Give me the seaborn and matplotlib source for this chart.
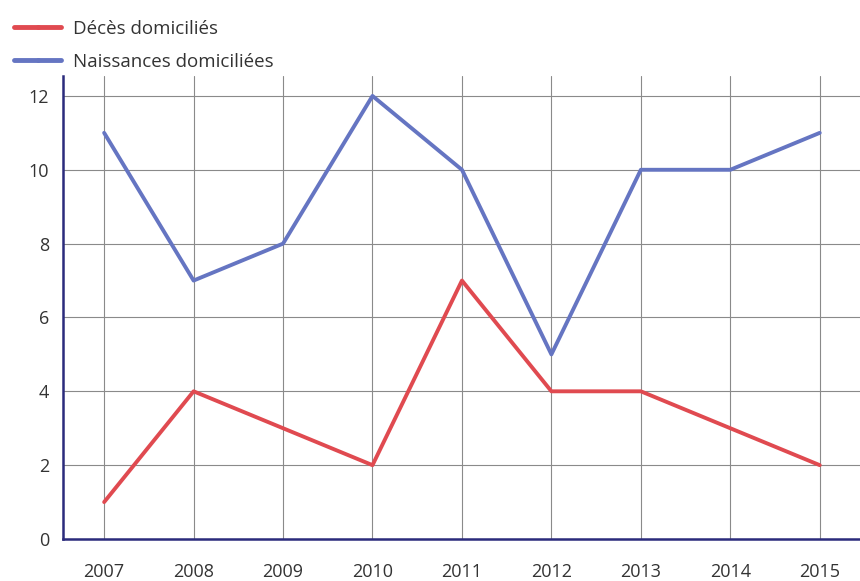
import matplotlib
matplotlib.use("Agg")
import matplotlib.pyplot as plt
import seaborn as sns
import pandas as pd

years = [2007, 2008, 2009, 2010, 2011, 2012, 2013, 2014, 2015]
deces = [1, 4, 3, 2, 7, 4, 4, 3, 2]
naissances = [11, 7, 8, 12, 10, 5, 10, 10, 11]
labels = ["Décès domiciliés", "Naissances domiciliées"]
colors = ["#e04a50", "#6575c2"]

df = pd.DataFrame({
    "year": years * 2,
    "value": deces + naissances,
    "serie": [labels[0]] * len(years) + [labels[1]] * len(years),
})

sns.set_style("white")
plt.rcParams["font.family"] = ["Open Sans", "DejaVu Sans"]

fig = plt.figure(figsize=(8.6, 5.81), dpi=100)
ax = fig.add_axes([63 / 860, 1 - 539 / 581, 1 - 63 / 860, (539 - 76) / 581])

sns.lineplot(data=df, x="year", y="value", hue="serie", palette=colors,
             linewidth=2.8, ax=ax, legend=False)

ax.set_xlim(2006.54, 2015.45)
ax.set_ylim(0, 12.54)
ax.set_xticks(years)
ax.set_xticklabels([str(y) for y in years])
ax.set_yticks([0, 2, 4, 6, 8, 10, 12])
ax.set_xlabel("")
ax.set_ylabel("")
ax.grid(True, color="#8a8a8a", linewidth=0.8)
ax.set_axisbelow(True)
ax.tick_params(axis="both", length=7, width=0.8, color="#8a8a8a",
               labelsize=13, labelcolor="#333333")
ax.tick_params(axis="x", pad=10)
ax.tick_params(axis="y", pad=3)
for s in ["top", "right"]:
    ax.spines[s].set_visible(False)
for s in ["left", "bottom"]:
    ax.spines[s].set_color("#2b2b7c")
    ax.spines[s].set_linewidth(1.8)

from matplotlib.lines import Line2D
handles = [Line2D([], [], color=c, linewidth=3.5, marker="o", markersize=2.5)
           for c in colors]
fig.legend(handles, labels, loc="upper left", bbox_to_anchor=(-0.003, 0.995),
           frameon=False, fontsize=13.5, handlelength=2.5, handletextpad=0.65,
           labelspacing=0.8, labelcolor="#333333", borderaxespad=0.5)

fig.savefig("out.png", dpi=100)
